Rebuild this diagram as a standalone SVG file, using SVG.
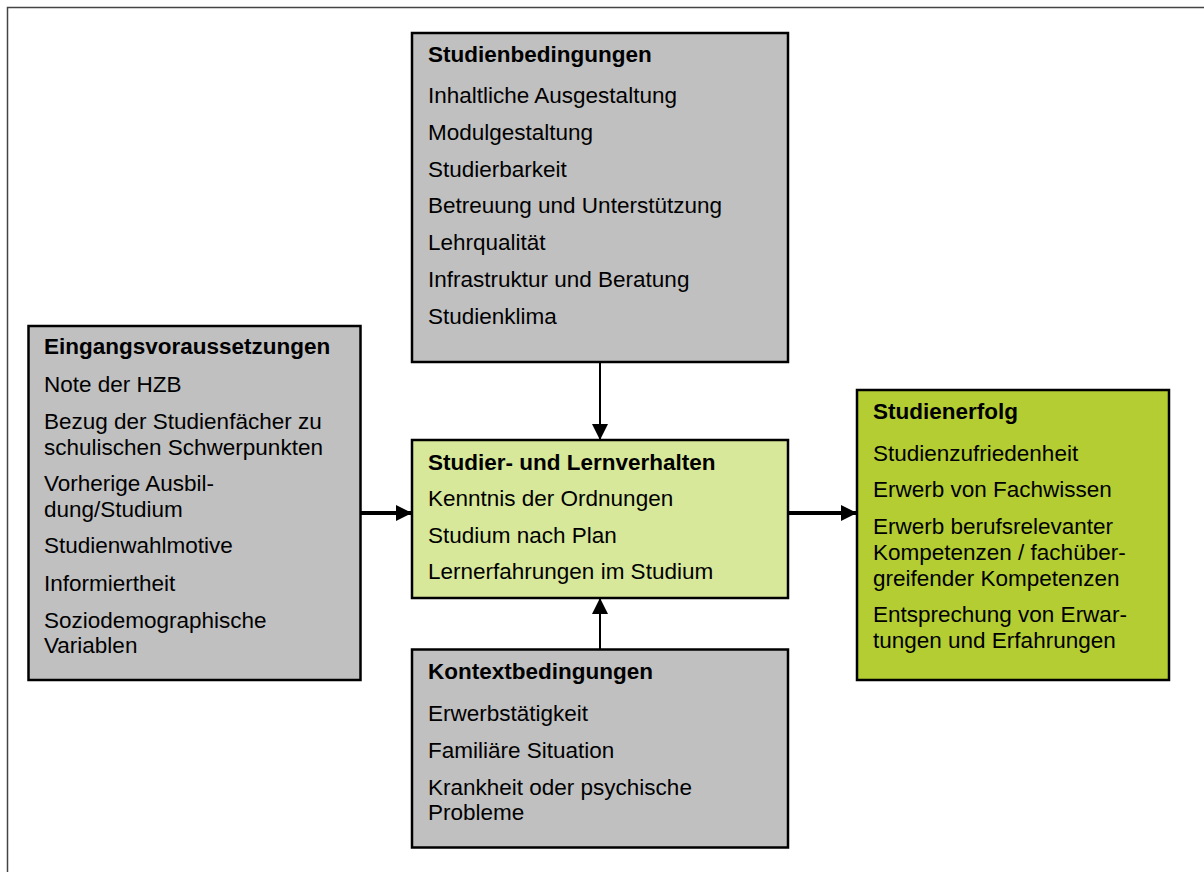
<svg xmlns="http://www.w3.org/2000/svg" width="1204" height="872" viewBox="0 0 1204 872">
<defs>
<style>
text{font-family:"Liberation Sans",Arial,sans-serif;font-size:22.5px;fill:#000}
.t{font-weight:bold}
.box{stroke:#000;stroke-width:2.5}
.gray{fill:#c0c0c0}
.lg{fill:#d7e89a}
.dg{fill:#b3cd33}
.thin{stroke:#000;stroke-width:2;fill:none}
.thick{stroke:#000;stroke-width:4;fill:none}
</style>
<marker id="ah" viewBox="0 0 16 16" refX="16" refY="8" markerWidth="16" markerHeight="16" markerUnits="userSpaceOnUse" orient="auto">
<path d="M0,0 L16,8 L0,16 Z" fill="#000"/>
</marker>
</defs>
<rect width="1204" height="872" fill="#fff"/>
<path d="M7.5,872 V7.5 H1204" fill="none" stroke="#444" stroke-width="1.5"/>

<g id="connectors">
<line class="thin" x1="600" y1="362" x2="600" y2="440" marker-end="url(#ah)"/>
<line class="thin" x1="600" y1="649" x2="600" y2="598" marker-end="url(#ah)"/>
<line class="thick" x1="361" y1="513" x2="412" y2="513" marker-end="url(#ah)"/>
<line class="thick" x1="788" y1="513" x2="857" y2="513" marker-end="url(#ah)"/>
</g>

<g id="studienbedingungen">
<rect class="box gray" x="412" y="33" width="376" height="329"/>
<text class="t" x="428" y="62">Studienbedingungen</text>
<text x="428" y="103">Inhaltliche Ausgestaltung</text>
<text x="428" y="140">Modulgestaltung</text>
<text x="428" y="177">Studierbarkeit</text>
<text x="428" y="213">Betreuung und Unterstützung</text>
<text x="428" y="250">Lehrqualität</text>
<text x="428" y="287">Infrastruktur und Beratung</text>
<text x="428" y="324">Studienklima</text>
</g>

<g id="eingangsvoraussetzungen">
<rect class="box gray" x="28.5" y="326" width="332" height="354"/>
<text class="t" x="44" y="354">Eingangsvoraussetzungen</text>
<text x="44" y="391.5">Note der HZB</text>
<text x="44" y="429">Bezug der Studienfächer zu</text>
<text x="44" y="455">schulischen Schwerpunkten</text>
<text x="44" y="491">Vorherige Ausbil-</text>
<text x="44" y="517">dung/Studium</text>
<text x="44" y="553">Studienwahlmotive</text>
<text x="44" y="590.5">Informiertheit</text>
<text x="44" y="627.5">Soziodemographische</text>
<text x="44" y="653">Variablen</text>
</g>

<g id="studierverhalten">
<rect class="box lg" x="412" y="440" width="376" height="158"/>
<text class="t" x="428" y="470">Studier- und Lernverhalten</text>
<text x="428" y="506">Kenntnis der Ordnungen</text>
<text x="428" y="542.5">Studium nach Plan</text>
<text x="428" y="579">Lernerfahrungen im Studium</text>
</g>

<g id="studienerfolg">
<rect class="box dg" x="857" y="390" width="312" height="290"/>
<text class="t" x="873" y="419">Studienerfolg</text>
<text x="873" y="461">Studienzufriedenheit</text>
<text x="873" y="497">Erwerb von Fachwissen</text>
<text x="873" y="534">Erwerb berufsrelevanter</text>
<text x="873" y="560">Kompetenzen / fachüber-</text>
<text x="873" y="586">greifender Kompetenzen</text>
<text x="873" y="622">Entsprechung von Erwar-</text>
<text x="873" y="648">tungen und Erfahrungen</text>
</g>

<g id="kontextbedingungen">
<rect class="box gray" x="412" y="649.5" width="376" height="198"/>
<text class="t" x="428" y="679">Kontextbedingungen</text>
<text x="428" y="720.5">Erwerbstätigkeit</text>
<text x="428" y="757.5">Familiäre Situation</text>
<text x="428" y="795">Krankheit oder psychische</text>
<text x="428" y="820">Probleme</text>
</g>
</svg>
